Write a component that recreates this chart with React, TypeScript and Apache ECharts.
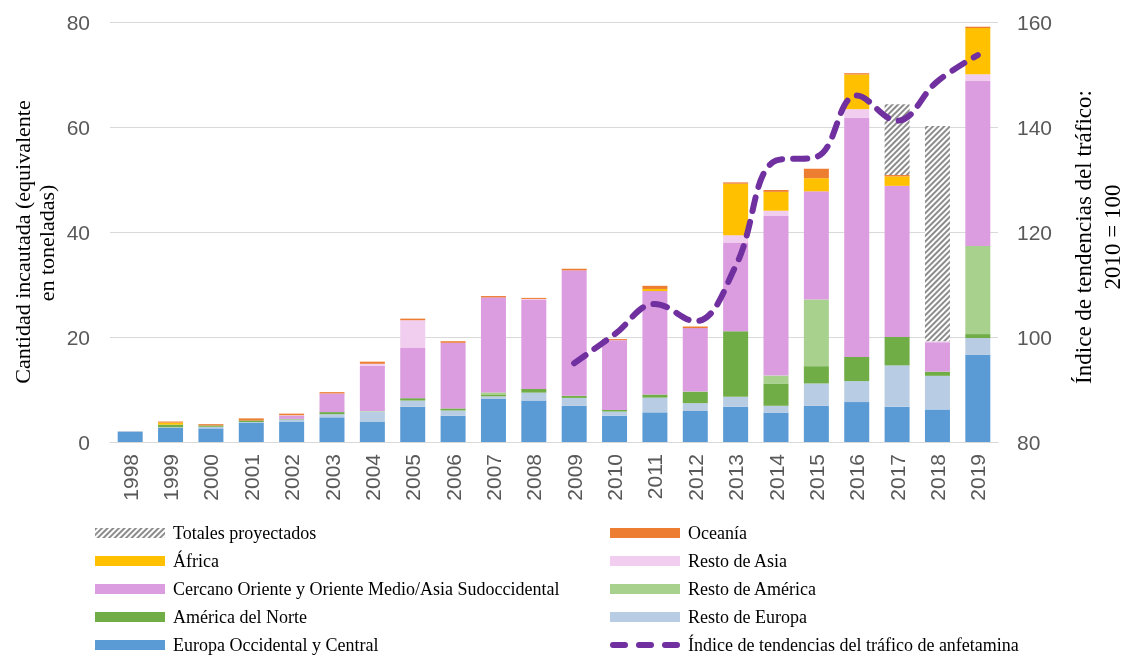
import React, { useEffect, useRef } from "react";
import * as echarts from "echarts";

const years = ["1998","1999","2000","2001","2002","2003","2004","2005","2006","2007","2008","2009","2010","2011","2012","2013","2014","2015","2016","2017","2018","2019"];

const europaOcc = [1.9, 2.7, 2.6, 3.7, 3.9, 4.7, 3.9, 6.7, 5.0, 8.2, 7.9, 6.9, 5.0, 5.65, 5.9, 6.7, 5.6, 6.9, 7.6, 6.7, 6.2, 16.6];
const restoEuropa = [0.2, 0.1, 0.3, 0.1, 0.4, 0.6, 1.9, 1.2, 1.0, 0.5, 1.5, 1.5, 0.8, 2.8, 1.5, 1.9, 1.3, 4.25, 4.0, 7.9, 6.4, 3.2];
const americaNorte = [0, 0.5, 0.25, 0.3, 0.1, 0.4, 0, 0.45, 0.4, 0.25, 0.7, 0.4, 0.3, 0.6, 2.2, 12.5, 4.25, 3.3, 4.6, 5.4, 0.8, 0.75];
const restoAmerica = [0, 0, 0, 0, 0, 0, 0.1, 0, 0, 0.5, 0, 0, 0, 0, 0, 0, 1.5, 12.7, 0, 0, 0, 16.8];
const cercanoOriente = [0, 0, 0, 0, 0.6, 3.55, 8.6, 9.65, 12.5, 18.1, 16.95, 23.9, 13.3, 19.7, 12.1, 16.9, 30.4, 20.6, 45.5, 28.8, 5.6, 31.4];
const restoAsia = [0, 0, 0, 0, 0.1, 0, 0.4, 5.2, 0, 0, 0.2, 0, 0, 0, 0, 1.4, 1.0, 0, 1.7, 0, 0.2, 1.3];
const africa = [0, 0.4, 0, 0, 0, 0, 0, 0, 0, 0, 0, 0, 0, 0.4, 0, 9.8, 3.6, 2.5, 6.6, 1.8, 0, 8.8];
const oceania = [0, 0.2, 0.25, 0.4, 0.3, 0.25, 0.4, 0.3, 0.3, 0.25, 0.2, 0.3, 0.2, 0.6, 0.3, 0.25, 0.35, 1.8, 0.25, 0.25, 0, 0.25];
const proyectados = [null, null, null, null, null, null, null, null, null, null, null, null, null, null, null, null, null, null, null, 13.5, 41.0, null];
const indice = [null, null, null, null, null, null, null, null, null, null, null, 95.0, 100.5, 106.3, 103.0, 113.5, 133.6, 134.3, 146.0, 141.2, 148.7, 153.7];

const leftTicks = { min: 0, max: 80, interval: 20 };
const rightTicks = { min: 80, max: 160, interval: 20 };

const SERIF = '"Liberation Serif", "Times New Roman", serif';
const SANS = '"Liberation Sans", Arial, sans-serif';

// three rounded dashes in a 70x10 box (tiny corner specks fix the bounding box)
const dash = (a: number, b: number) =>
  `M${a + 3},2 H${b - 3} A3,3 0 0 1 ${b - 3},8 H${a + 3} A3,3 0 0 1 ${a + 3},2 Z`;
const LINE_ICON =
  "path://M0,0 h0.01 v0.01 h-0.01 Z M69.99,9.99 h0.01 v0.01 h-0.01 Z " +
  dash(0, 18) + " " + dash(26, 44) + " " + dash(52, 70);

export default function App() {
  const ref = useRef<HTMLDivElement>(null);
  useEffect(() => {
    if (!ref.current) return;
    const chart = echarts.init(ref.current, undefined, { renderer: "svg" });
    const barBase = { type: "bar", stack: "total", barWidth: 25, yAxisIndex: 0 };
    const mk = (name: string, data: any[], color: string) => ({
      ...barBase,
      name,
      data,
      itemStyle: { color },
    });
    const legendText = { fontFamily: SERIF, fontSize: 18, color: "#000", lineHeight: 18, padding: [0, 0, 0, 3] };
    const legendBase = {
      orient: "vertical",
      top: 519,
      height: 150,
      itemWidth: 70,
      itemHeight: 10,
      itemGap: 10,
      textStyle: legendText,
    };
    chart.setOption({
      animation: false,
      grid: { left: 110, right: 131, top: 22, bottom: 215, containLabel: false },
      xAxis: {
        type: "category",
        data: years,
        axisLine: { lineStyle: { color: "#d9d9d9", width: 1 } },
        axisTick: { show: false },
        axisLabel: { rotate: 90, fontFamily: SANS, fontSize: 21, color: "#595959", margin: 12, interval: 0 },
      },
      yAxis: [
        {
          type: "value",
          ...leftTicks,
          axisLine: { show: false },
          axisTick: { show: false },
          splitLine: { lineStyle: { color: "#d9d9d9", width: 1 } },
          axisLabel: { fontFamily: SANS, fontSize: 21, color: "#595959", margin: 20 },
        },
        {
          type: "value",
          ...rightTicks,
          position: "right",
          axisLine: { show: false },
          axisTick: { show: false },
          splitLine: { show: false },
          axisLabel: { fontFamily: SANS, fontSize: 21, color: "#595959", margin: 19 },
        },
      ],
      legend: [
        {
          ...legendBase,
          left: 90,
          data: [
            { name: "Totales proyectados", icon: "rect" },
            { name: "África", icon: "rect" },
            { name: "Cercano Oriente y Oriente Medio/Asia Sudoccidental", icon: "rect" },
            { name: "América del Norte", icon: "rect" },
            { name: "Europa Occidental y Central", icon: "rect" },
          ],
        },
        {
          ...legendBase,
          left: 605,
          data: [
            { name: "Oceanía", icon: "rect" },
            { name: "Resto de Asia", icon: "rect" },
            { name: "Resto de América", icon: "rect" },
            { name: "Resto de Europa", icon: "rect" },
            { name: "Índice de tendencias del tráfico de anfetamina", icon: LINE_ICON, itemStyle: { color: "#7030A0", borderWidth: 0 } },
          ],
        },
      ],
      graphic: [
        { type: "text", x: 22, y: 242, rotation: Math.PI / 2, style: { text: "Cantidad incautada (equivalente", font: `22px ${SERIF}`, fill: "#000", textAlign: "center", textVerticalAlign: "middle" } },
        { type: "text", x: 46, y: 243, rotation: Math.PI / 2, style: { text: "en toneladas)", font: `22px ${SERIF}`, fill: "#000", textAlign: "center", textVerticalAlign: "middle" } },
        { type: "text", x: 1083, y: 237, rotation: Math.PI / 2, style: { text: "Índice de tendencias del tráfico:", font: `23px ${SERIF}`, fill: "#000", textAlign: "center", textVerticalAlign: "middle" } },
        { type: "text", x: 1112, y: 237, rotation: Math.PI / 2, style: { text: "2010 = 100", font: `23px ${SERIF}`, fill: "#000", textAlign: "center", textVerticalAlign: "middle" } },
      ],
      series: [
        mk("Europa Occidental y Central", europaOcc, "#5B9BD5"),
        mk("Resto de Europa", restoEuropa, "#B8CCE4"),
        mk("América del Norte", americaNorte, "#70AD47"),
        mk("Resto de América", restoAmerica, "#A9D18E"),
        mk("Cercano Oriente y Oriente Medio/Asia Sudoccidental", cercanoOriente, "#DB9DE0"),
        mk("Resto de Asia", restoAsia, "#F1CDEF"),
        mk("África", africa, "#FFC000"),
        mk("Oceanía", oceania, "#ED7D31"),
        {
          ...barBase,
          name: "Totales proyectados",
          data: proyectados,
          itemStyle: {
            color: "#ffffff",
            decal: {
              symbol: "rect",
              symbolSize: 1,
              dashArrayX: [1, 0],
              dashArrayY: [2, 2],
              rotation: -Math.PI / 4,
              color: "#8c8c8c",
            },
          },
        },
        {
          type: "line",
          name: "Índice de tendencias del tráfico de anfetamina",
          yAxisIndex: 1,
          data: indice,
          smooth: 0.4,
          symbol: "none",
          z: 5,
          lineStyle: { color: "#7030A0", width: 6, type: [14, 11], cap: "round" },
          itemStyle: { color: "#7030A0" },
        },
      ],
    });
    return () => chart.dispose();
  }, []);
  return <div ref={ref} style={{ position: "fixed", left: 0, top: 0, width: 1129, height: 657 }} />;
}
